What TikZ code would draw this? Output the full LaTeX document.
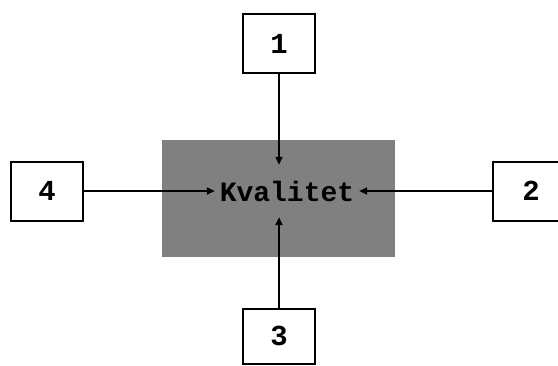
\documentclass[tikz,border=0pt]{standalone}
\usepackage{fontspec}
\setmonofont{Liberation Mono}
\usetikzlibrary{arrows.meta}
\begin{document}
\begin{tikzpicture}[x=1pt,y=-1pt,
  numbox/.style={draw=black,line width=2pt,minimum width=72pt,minimum height=59pt,inner sep=0pt,font=\ttfamily\bfseries\fontsize{29}{29}\selectfont},
  conn/.style={line width=1.6pt,-{Triangle[length=8pt,width=7pt]}}]
\useasboundingbox (0,0) rectangle (558,365);
\fill[black!50] (162,140) rectangle (395,257);
\node[numbox] (n1) at (279,43.5) {1};
\node[numbox] (n4) at (47,191) {4};
\node[numbox,minimum width=76pt] (n2) at (531,191) {2};
\node[numbox,minimum height=55pt] (n3) at (279,336) {3};
\node[inner sep=0pt,minimum width=144pt,minimum height=52pt,font=\ttfamily\bfseries\fontsize{28}{28}\selectfont] (k) at (287,191) {Kvalitet};
\draw[conn] (n1) -- (n1 |- k.north);
\draw[conn] (n3) -- (n3 |- k.south);
\draw[conn] (n4) -- (k);
\draw[conn] (n2) -- (k);
\end{tikzpicture}
\end{document}
